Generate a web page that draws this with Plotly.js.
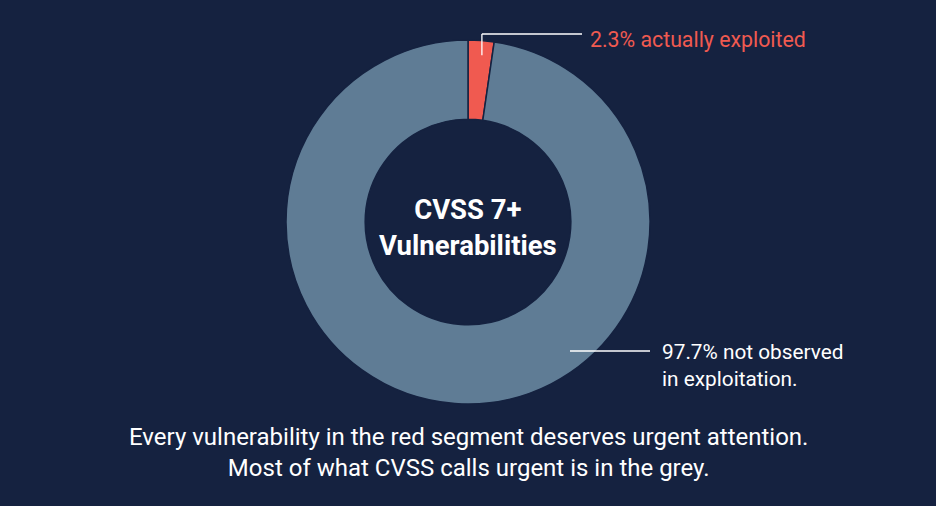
<!DOCTYPE html>
<html>
<head>
<meta charset="utf-8">
<script src="https://cdn.plot.ly/plotly-3.0.1.min.js"></script>
<style>
  html, body { margin: 0; padding: 0; background: #152240; }
  #chart { width: 936px; height: 506px; }
</style>
</head>
<body>
<div id="chart"></div>
<script>
// Share of CVSS 7+ vulnerabilities seen exploited vs not observed
const segmentLabels = ['Actually exploited', 'Not observed in exploitation'];
const segmentValues = [2.3, 97.7];
const segmentColors = ['#f05a50', '#5f7c95'];
const calloutTexts = ['2.3% actually exploited', '97.7% not observed<br>in exploitation.'];
const centerText = '<b>CVSS 7+<br>Vulnerabilities</b>';
const captionText = 'Every vulnerability in the red segment deserves urgent attention.<br>Most of what CVSS calls urgent is in the grey.';

const W = 936, H = 506;
const cx = 468, cy = 222, R = 182;
const px = x => x / W;
const py = y => 1 - y / H;

const bg = '#152240';
const font = 'Roboto, "Open Sans", sans-serif';

const trace = {
  type: 'pie',
  labels: segmentLabels,
  values: segmentValues,
  hole: 0.565,
  sort: false,
  direction: 'clockwise',
  rotation: 0,
  textinfo: 'none',
  hoverinfo: 'label+percent',
  marker: { colors: segmentColors, line: { color: bg, width: 1.5 } },
  domain: { x: [0, 1], y: [py(cy + R), py(cy - R)] },
  showlegend: false
};

// leader line for the red slice, anchored near its outer edge
const total = segmentValues.reduce((a, b) => a + b, 0);
const redMid = (segmentValues[0] / total) * Math.PI * 1.15;
const ax = cx + 0.92 * R * Math.sin(redMid);
const ay = cy - 0.92 * R * Math.cos(redMid);
const topY = 34;

const lineStyle = { color: '#ffffff', width: 1.3 };
const shapes = [
  { type: 'line', xref: 'paper', yref: 'paper', x0: px(ax), y0: py(ay), x1: px(ax), y1: py(topY), line: lineStyle },
  { type: 'line', xref: 'paper', yref: 'paper', x0: px(ax), y0: py(topY), x1: px(582), y1: py(topY), line: lineStyle },
  { type: 'line', xref: 'paper', yref: 'paper', x0: px(570), y0: py(351), x1: px(650), y1: py(351), line: lineStyle }
];

const annotations = [
  { xref: 'paper', yref: 'paper', x: px(cx), y: py(227), text: centerText, showarrow: false,
    xanchor: 'center', yanchor: 'middle', font: { family: font, size: 27.5, color: '#ffffff' } },
  { xref: 'paper', yref: 'paper', x: px(588), y: py(40), text: calloutTexts[0], showarrow: false,
    xanchor: 'left', yanchor: 'middle', font: { family: font, size: 21.3, color: '#f05a50' } },
  { xref: 'paper', yref: 'paper', x: px(660), y: py(365), text: calloutTexts[1], showarrow: false, align: 'left',
    xanchor: 'left', yanchor: 'middle', font: { family: font, size: 20.8, color: '#ffffff' } },
  { xref: 'paper', yref: 'paper', x: px(cx), y: py(452), text: captionText, showarrow: false, align: 'center',
    xanchor: 'center', yanchor: 'middle', font: { family: font, size: 24, color: '#ffffff' } }
];

const layout = {
  width: W, height: H,
  margin: { l: 0, r: 0, t: 0, b: 0 },
  paper_bgcolor: bg,
  plot_bgcolor: bg,
  shapes, annotations
};

Plotly.newPlot('chart', [trace], layout, { displayModeBar: false, staticPlot: true });
</script>
</body>
</html>
